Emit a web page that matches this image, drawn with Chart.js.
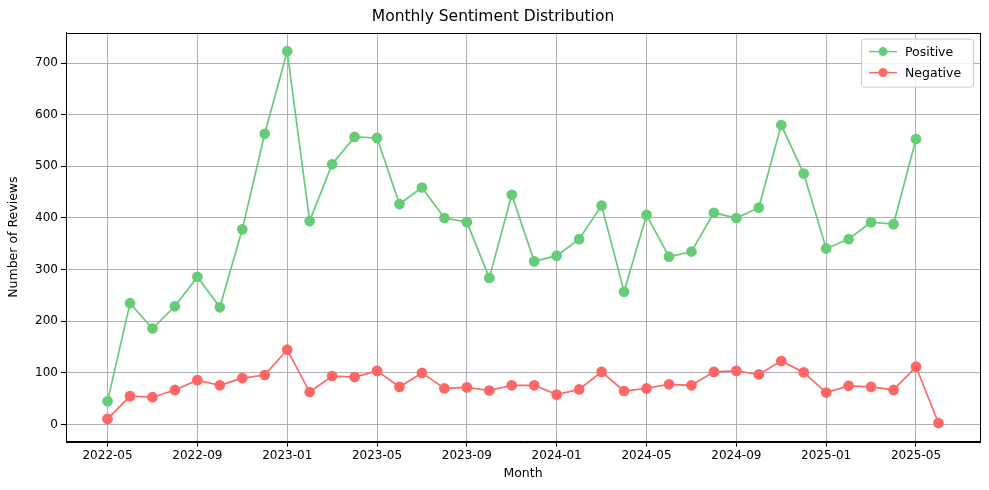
<!DOCTYPE html>
<html><head><script src="https://cdn.jsdelivr.net/npm/chart.js@4"></script>
<style>html,body{margin:0;background:#fff}#w{width:989px;height:490px}</style></head>
<body><div id="w"><canvas id="c"></canvas></div>
<script>
const months=[];for(let y=2022,m=5;months.length<38;){months.push(y+'-'+String(m).padStart(2,'0'));m++;if(m>12){m=1;y++;}}
const positive=[45,235,186,229,286,227,378,563,723,394,504,557,555,427,459,400,392,284,445,316,327,359,424,257,406,325,335,410,400,420,580,486,341,359,392,388,553];
const negative=[11,55,53,67,86,76,90,96,145,63,94,92,104,73,100,70,72,66,76,76,58,68,102,65,70,78,76,102,104,97,123,101,62,75,73,67,112,3];
const tickIdx=[0,4,8,12,16,20,24,28,32,36];
const F='DejaVu Sans';
const green='#66cc77',red='#ff6666';
const legendPlugin={id:'lg',afterDraw(ch){const c=ch.ctx,a=ch.chartArea;
c.save();c.strokeStyle='#000';c.lineWidth=1;c.strokeRect(Math.round(a.left)+0.5,Math.round(a.top)+0.5,Math.round(a.right-a.left),Math.round(a.bottom-a.top));
const x=a.right-119,y=a.top+6,w=112,h=48;
c.fillStyle='rgba(255,255,255,0.85)';c.strokeStyle='#ccc';c.lineWidth=1;c.beginPath();c.roundRect(x+0.5,y+0.5,w,h,3);c.fill();c.stroke();
[['Positive',green],['Negative',red]].forEach((s,i)=>{const yy=y+13+i*21;c.strokeStyle=s[1];c.lineWidth=1.5;c.beginPath();c.moveTo(x+8,yy);c.lineTo(x+36,yy);c.stroke();c.fillStyle=s[1];c.beginPath();c.arc(x+22,yy,4.5,0,7);c.fill();c.fillStyle='#000';c.font='12.5px '+F;c.textBaseline='middle';c.fillText(s[0],x+44,yy+1);});c.restore();}};
new Chart(document.getElementById('c'),{type:'line',
data:{datasets:[
{label:'Positive',data:positive.map((v,i)=>({x:i,y:v})),borderColor:green,backgroundColor:green,borderWidth:1.7,pointRadius:4.5,pointHoverRadius:4.5,tension:0},
{label:'Negative',data:negative.map((v,i)=>({x:i,y:v})),borderColor:red,backgroundColor:red,borderWidth:1.7,pointRadius:4.5,pointHoverRadius:4.5,tension:0}]},
options:{responsive:true,maintainAspectRatio:false,animation:false,events:[],
layout:{padding:{left:6,right:9,top:0,bottom:9}},
plugins:{legend:{display:false},tooltip:{enabled:false},
title:{display:true,text:'Monthly Sentiment Distribution',color:'#000',font:{family:F,size:15.5,weight:'normal'},padding:{top:8,bottom:6}}},
scales:{
x:{type:'linear',min:-1.85,max:38.85,afterBuildTicks(s){s.ticks=tickIdx.map(v=>({value:v}));},
ticks:{color:'#000',font:{family:F,size:12},maxRotation:0,autoSkip:false,callback:v=>months[v],padding:2},
grid:{color:'#b0b0b0',tickColor:'#000',tickLength:5},border:{color:'#000'},
title:{display:true,text:'Month',color:'#000',font:{family:F,size:12.5},padding:{top:1,bottom:0}}},
y:{min:-33,max:759,afterBuildTicks(s){s.ticks=[0,100,200,300,400,500,600,700].map(v=>({value:v}));},
afterFit(s){s.width=60;},
ticks:{color:'#000',font:{family:F,size:12}},
grid:{color:'#b0b0b0',tickColor:'#000',tickLength:5},border:{color:'#000'},
title:{display:true,text:'Number of Reviews',color:'#000',font:{family:F,size:12.5},padding:{top:0,bottom:4}}}}},
plugins:[legendPlugin]});
</script></body></html>
